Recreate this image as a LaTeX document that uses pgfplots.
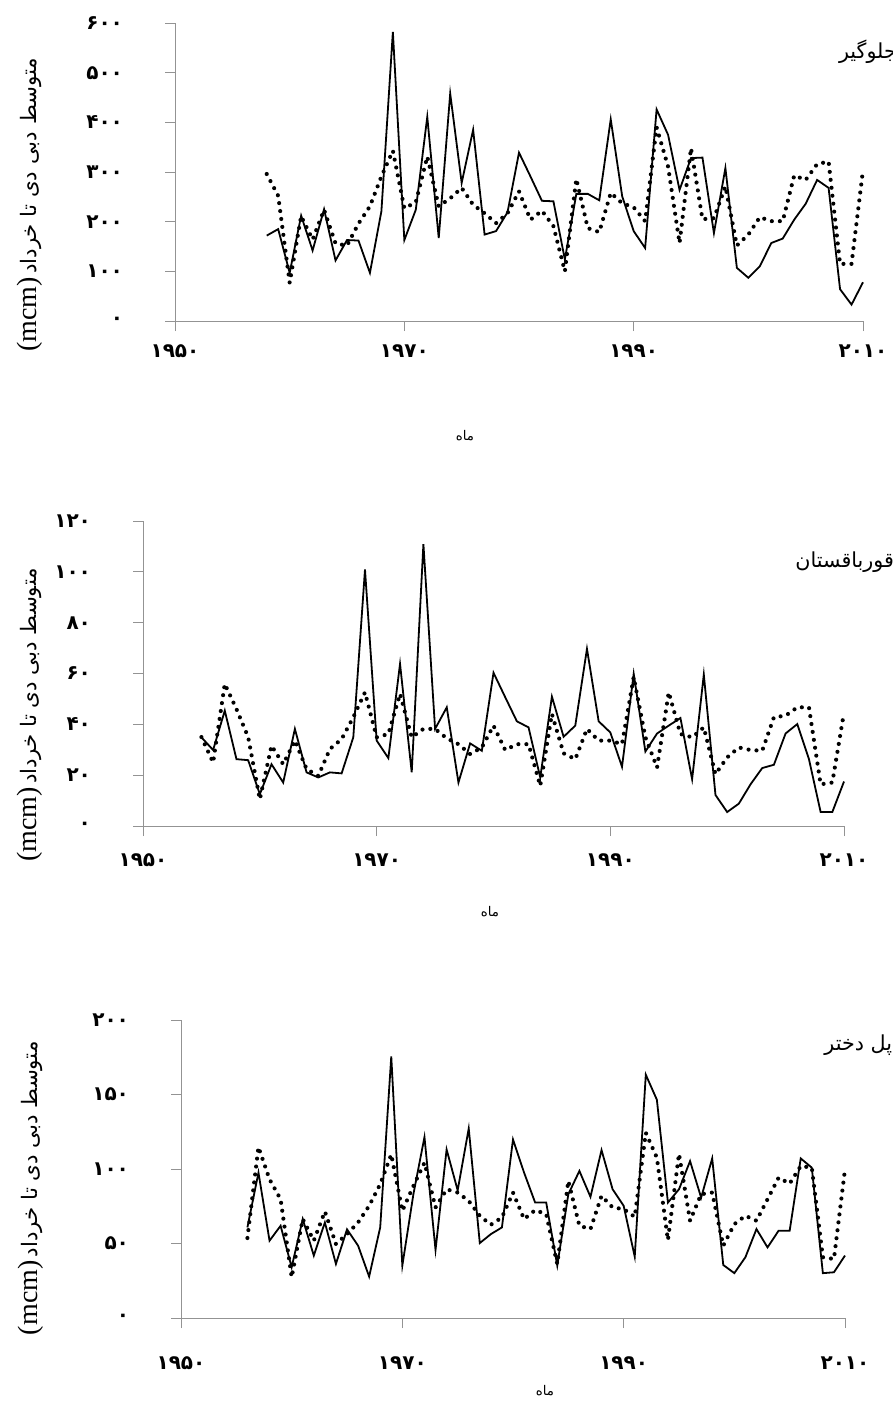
\documentclass[border=0pt]{standalone}
\usepackage{fontspec}
\usepackage{pgfplots}
\usepackage{pgfplotstable}
\pgfplotsset{compat=1.18}
\setmainfont{Liberation Serif}
\newfontfamily\arabicfont[Script=Arabic]{DejaVu Sans}
\TeXXeTstate=1

% year, observed (solid), simulated (dotted)
\pgfplotstableread{
year obs sim
1958 172 296
1959 185 252
1960 97 77
1961 212 211
1962 142 164
1963 225 224
1964 122 156
1965 163 152
1966 162 196
1967 97 231
1968 221 291
1969 582 343
1970 163 227
1971 224 239
1972 411 331
1973 167 231
1974 458 247
1975 278 268
1976 385 234
1977 174 217
1978 181 197
1979 219 217
1980 339 261
1981 291 204
1982 242 222
1983 241 191
1984 124 100
1985 256 286
1986 256 187
1987 243 179
1988 406 258
1989 251 237
1990 181 229
1991 147 201
1992 426 390
1993 375 311
1994 264 157
1995 328 348
1996 329 205
1997 177 207
1998 308 271
1999 107 152
2000 87 174
2001 110 209
2002 157 201
2003 166 201
2004 204 293
2005 236 284
2006 284 316
2007 268 321
2008 64 115
2009 33 115
2010 78 304
}\jelogir

\pgfplotstableread{
year obs sim
1955 34.9 35.0
1956 29.9 25.0
1957 45.4 55.9
1958 26.3 46.0
1959 25.9 35.0
1960 12.5 10.5
1961 24.3 31.6
1962 17.1 24.3
1963 38.2 33.6
1964 21.1 22.4
1965 19.1 19.7
1966 21.1 30.3
1967 20.7 34.2
1968 34.9 42.8
1969 100.9 52.6
1970 33.6 34.9
1971 26.7 36.2
1972 63.8 52.0
1973 21.1 34.9
1974 110.9 38.2
1975 38.2 38.2
1976 46.7 34.5
1977 17.1 32.2
1978 32.5 28.3
1979 29.6 30.9
1980 60.3 39.5
1981 50.7 29.9
1982 41.2 32.2
1983 38.8 32.2
1984 19.1 15.8
1985 50.9 44.1
1986 35.1 28.6
1987 39.5 26.3
1988 69.7 38.2
1989 41.2 33.6
1990 36.8 33.6
1991 23.3 32.2
1992 59.9 58.6
1993 29.3 34.9
1994 36.4 23.0
1995 39.5 52.6
1996 42.5 36.2
1997 18.4 34.9
1998 59.6 38.8
1999 12.2 20.4
2000 5.5 27.0
2001 8.8 30.9
2002 16.4 29.9
2003 22.8 29.6
2004 24.1 42.8
2005 36.4 43.4
2006 40.1 46.7
2007 26.3 46.7
2008 5.5 16.4
2009 5.5 17.1
2010 17.5 44.7
}\ghorbaghestan

\pgfplotstableread{
year obs sim
1956 60.8 53.7
1957 97.6 114.7
1958 51.9 93.1
1959 61.9 79.7
1960 34.1 27.4
1961 66.4 66.4
1962 41.9 51.9
1963 64.1 71.5
1964 36.3 49.7
1965 59.5 56.3
1966 48.6 64.1
1967 27.8 75.3
1968 60.8 89.8
1969 175.5 109.8
1970 35.2 71.9
1971 83.1 88.6
1972 121.4 104.2
1973 45.7 74.2
1974 113.1 86.4
1975 85.7 84.2
1976 127.2 78.6
1977 50.3 68.6
1978 56.3 62.6
1979 60.8 67.5
1980 119.8 84.2
1981 97.6 66.4
1982 77.5 72.4
1983 77.5 69.7
1984 35.2 36.3
1985 83.1 92.0
1986 98.7 61.9
1987 81.3 59.7
1988 112.7 82.0
1989 86.4 74.2
1990 75.3 73.1
1991 41.2 67.9
1992 163.3 124.3
1993 146.5 107.6
1994 77.5 52.3
1995 86.4 110.2
1996 105.3 65.3
1997 80.8 83.1
1998 107.1 84.2
1999 35.6 48.6
2000 30.1 63.0
2001 40.8 68.6
2002 59.7 65.3
2003 47.4 79.7
2004 58.6 94.2
2005 58.6 90.2
2006 107.1 102.0
2007 100.9 100.9
2008 30.1 40.8
2009 30.7 39.6
2010 41.9 99.8
}\poldokhtar

\newcommand\ylab{{\fontsize{21}{23}\selectfont(mcm)}\ {\arabicfont\fontsize{16}{18}\selectfont\beginR متوسط دبی دی تا خرداد\endR}}
\newcommand\xlab{{\arabicfont\fontsize{10}{12}\selectfont\beginR ماه\endR}}

\pgfplotsset{
  panel/.style={
    scale only axis,
    axis lines=left,
    axis line style={-, draw=gray!85, line width=0.7pt},
    every tick/.style={draw=gray!85, line width=0.7pt},
    tick align=outside,
    major tick length=7.5pt,
    xmin=1950, xmax=2010,
    xtick={1950,1970,1990,2010},
    xticklabels={۱۹۵۰,۱۹۷۰,۱۹۹۰,۲۰۱۰},
    ticklabel style={font=\arabicfont\bfseries\fontsize{15}{17}\selectfont},
    yticklabel style={xshift=-28pt},
    ylabel=\ylab,
    xlabel=\xlab,
    title style={anchor=east, font=\arabicfont\fontsize{15.5}{17}\selectfont},
    clip=false,
  },
  obs/.style={black, line width=1.35pt, mark=none},
  sim/.style={black, line width=3.1pt, line cap=round, dash pattern=on 0pt off 6pt, mark=none},
}

\begin{document}
\begin{tikzpicture}
\path[use as bounding box] (0pt,0pt) rectangle (669pt,-1053.75pt);

\begin{axis}[panel, at={(131.25pt,-240.75pt)}, anchor=south west,
  width=516pt, height=223.5pt,
  ymin=0, ymax=600, ytick={0,100,...,600},
  yticklabels={۰,۱۰۰,۲۰۰,۳۰۰,۴۰۰,۵۰۰,۶۰۰},
  xticklabel style={yshift=-7pt},
  ylabel style={at={(axis description cs:-0.211,0.39)}, anchor=center},
  xlabel style={at={(axis description cs:0.4215,-0.383)}, anchor=center},
  title={\beginR جلوگیر\endR},
  title style={at={(axis description cs:1.056,0.876)}}]
\addplot[sim] table[x=year, y=sim] {\jelogir};
\addplot[obs] table[x=year, y=obs] {\jelogir};
\end{axis}

\begin{axis}[panel, at={(107.25pt,-619.5pt)}, anchor=south west,
  width=525.75pt, height=228.75pt,
  ymin=0, ymax=120, ytick={0,20,...,120},
  yticklabels={۰,۲۰,۴۰,۶۰,۸۰,۱۰۰,۱۲۰},
  xticklabel style={yshift=-10pt},
  ylabel style={at={(axis description cs:-0.161,0.364)}, anchor=center},
  xlabel style={at={(axis description cs:0.495,-0.282)}, anchor=center},
  title={\beginR قورباقستان\endR},
  title style={at={(axis description cs:1.078,0.839)}}]
\addplot[sim] table[x=year, y=sim] {\ghorbaghestan};
\addplot[obs] table[x=year, y=obs] {\ghorbaghestan};
\end{axis}

\begin{axis}[panel, at={(135.75pt,-988.5pt)}, anchor=south west,
  width=498pt, height=223.5pt,
  ymin=0, ymax=200, ytick={0,50,...,200},
  yticklabels={۰,۵۰,۱۰۰,۱۵۰,۲۰۰},
  xticklabel style={yshift=-18pt},
  ylabel style={at={(axis description cs:-0.227,0.436)}, anchor=center},
  xlabel style={at={(axis description cs:0.548,-0.242)}, anchor=center},
  title={\beginR پل دختر\endR},
  title style={at={(axis description cs:1.078,0.889)}}]
\addplot[sim] table[x=year, y=sim] {\poldokhtar};
\addplot[obs] table[x=year, y=obs] {\poldokhtar};
\end{axis}
\end{tikzpicture}
\end{document}
